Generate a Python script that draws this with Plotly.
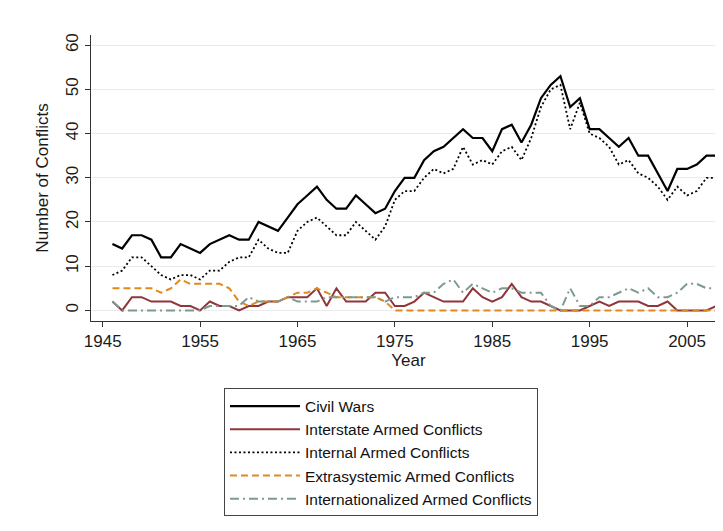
import plotly.graph_objects as go

years = list(range(1946, 2009))

civil_wars = [15, 14, 17, 17, 16, 12, 12, 15, 14, 13,
              15, 16, 17, 16, 16, 20, 19, 18, 21, 24,
              26, 28, 25, 23, 23, 26, 24, 22, 23, 27,
              30, 30, 34, 36, 37, 39, 41, 39, 39, 36,
              41, 42, 38, 42, 48, 51, 53, 46, 48, 41,
              41, 39, 37, 39, 35, 35, 31, 27, 32, 32,
              33, 35, 35]

interstate = [2, 0, 3, 3, 2, 2, 2, 1, 1, 0,
              2, 1, 1, 0, 1, 1, 2, 2, 3, 3,
              3, 5, 1, 5, 2, 2, 2, 4, 4, 1,
              1, 2, 4, 3, 2, 2, 2, 5, 3, 2,
              3, 6, 3, 2, 2, 1, 0, 0, 0, 1,
              2, 1, 2, 2, 2, 1, 1, 2, 0, 0,
              0, 0, 1]

internal = [8, 9, 12, 12, 10, 8, 7, 8, 8, 7,
            9, 9, 11, 12, 12, 16, 14, 13, 13, 18,
            20, 21, 19, 17, 17, 20, 18, 16, 19, 25,
            27, 27, 30, 32, 31, 32, 37, 33, 34, 33,
            36, 37, 34, 39, 46, 50, 51, 41, 47, 40,
            39, 37, 33, 34, 31, 30, 28, 25, 28, 26,
            27, 30, 30]

extrasystemic = [5, 5, 5, 5, 5, 4, 5, 7, 6, 6,
                 6, 6, 5, 2, 1, 2, 2, 2, 3, 4,
                 4, 5, 4, 3, 3, 3, 3, 3, 2, 0,
                 0, 0, 0, 0, 0, 0, 0, 0, 0, 0,
                 0, 0, 0, 0, 0, 0, 0, 0, 0, 0,
                 0, 0, 0, 0, 0, 0, 0, 0, 0, 0,
                 0, 0, 0]

internationalized = [2, 0, 0, 0, 0, 0, 0, 0, 0, 0,
                     1, 1, 1, 1, 3, 2, 2, 2, 3, 2,
                     2, 2, 3, 3, 3, 3, 3, 3, 2, 3,
                     3, 3, 4, 4, 6, 7, 4, 6, 5, 4,
                     5, 5, 4, 4, 4, 1, 0, 5, 1, 1,
                     3, 3, 4, 5, 4, 5, 3, 3, 4, 6,
                     6, 5, 5]

x_ticks = [1945, 1955, 1965, 1975, 1985, 1995, 2005]
y_ticks = [0, 10, 20, 30, 40, 50, 60]

FONT = "Liberation Sans, Arial, sans-serif"
FS = 17
LFS = 15.5
TXT = "#1a1a1a"

fig = go.Figure()
fig.add_trace(go.Scatter(x=years, y=civil_wars, mode="lines", name="Civil Wars",
                         line=dict(color="#000000", width=2.2)))
fig.add_trace(go.Scatter(x=years, y=interstate, mode="lines", name="Interstate Armed Conflicts",
                         line=dict(color="#90353B", width=2)))
fig.add_trace(go.Scatter(x=years, y=internal, mode="lines", name="Internal Armed Conflicts",
                         line=dict(color="#000000", width=1.8, dash="2px,2.5px")))
fig.add_trace(go.Scatter(x=years, y=extrasystemic, mode="lines", name="Extrasystemic Armed Conflicts",
                         line=dict(color="#E08A1E", width=2, dash="7px,4px")))
fig.add_trace(go.Scatter(x=years, y=internationalized, mode="lines", name="Internationalized Armed Conflicts",
                         line=dict(color="#7E9A90", width=2, dash="9px,4px,2px,4px")))

fig.update_layout(
    width=723, height=531,
    margin=dict(l=83, r=5, t=27, b=218, autoexpand=False),
    paper_bgcolor="white", plot_bgcolor="white",
    font=dict(family=FONT, size=FS, color=TXT),
    showlegend=True,
    legend=dict(
        x=0.2094, y=-0.236, xanchor="left", yanchor="top",
        bordercolor="#444444", borderwidth=1,
        font=dict(family=FONT, size=LFS, color="#111111"),
        tracegroupgap=0, itemwidth=70,
    ),
    xaxis=dict(
        range=[1943.8, 2009.0], tickvals=x_ticks, ticktext=[str(v) for v in x_ticks],
        showgrid=False, zeroline=False, showline=True, linecolor="#333333", linewidth=1,
        ticks="outside", ticklen=5, tickcolor="#333333", automargin=False,
        tickfont=dict(family=FONT, size=FS, color=TXT),
        title=dict(text="Year", font=dict(family=FONT, size=FS, color=TXT), standoff=0),
    ),
    yaxis=dict(
        range=[-2.4, 62.3], tickvals=y_ticks, ticktext=[str(v) for v in y_ticks],
        tickangle=-90, automargin=False,
        showgrid=True, gridcolor="#EBEBEB", gridwidth=1, zeroline=False,
        showline=True, linecolor="#333333", linewidth=1,
        ticks="outside", ticklen=5, tickcolor="#333333",
        tickfont=dict(family=FONT, size=FS, color=TXT),
        title=dict(text="Number of Conflicts", font=dict(family=FONT, size=FS, color=TXT), standoff=10),
    ),
)

fig.write_html("out.html")
